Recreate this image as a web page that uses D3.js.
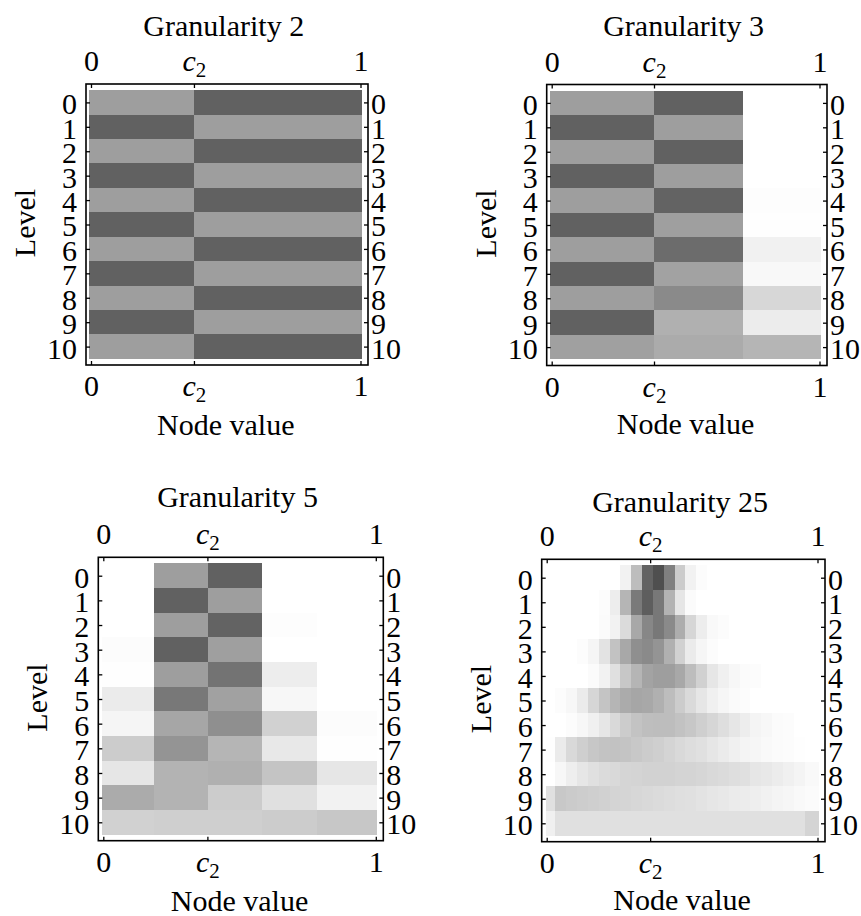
<!DOCTYPE html>
<html>
<head>
<meta charset="utf-8">
<script src="https://cdn.jsdelivr.net/npm/d3@7"></script>
<style>
  html, body { margin: 0; padding: 0; background: #ffffff; }
  svg { display: block; }
  text { font-family: "Liberation Serif", "Times New Roman", serif; fill: #000; }
</style>
</head>
<body>
<svg id="chart" width="861" height="916"></svg>
<script>
// ---------------- data ----------------
const c2 = 0.382;
const xTickValues = [0, c2, 1];
const xTickLabels = ["0", "c2", "1"];
const levels = [0, 1, 2, 3, 4, 5, 6, 7, 8, 9, 10];
const titles = ["Granularity 2", "Granularity 3", "Granularity 5", "Granularity 25"];
const xAxisTitle = "Node value";
const yAxisTitle = "Level";

// column edges (node value) per granularity
const edges2 = [-0.007, 0.382, 1.007];
const edges3 = [-0.008, 0.382, 0.714, 1.006];
const edges5 = [-0.006, 0.185, 0.383, 0.582, 0.786, 1.004];
const edges25 = [-0.004, 0.032, 0.072, 0.112, 0.152, 0.192, 0.232, 0.272, 0.312, 0.352,
                 0.392, 0.432, 0.472, 0.512, 0.552, 0.592, 0.632, 0.672, 0.712, 0.752,
                 0.792, 0.832, 0.872, 0.912, 0.952, 1.006];

// darkness per cell (rows = level 0..10)
const values2 = [
  [0.382, 0.618], [0.618, 0.382], [0.382, 0.618], [0.618, 0.382], [0.382, 0.618],
  [0.618, 0.382], [0.382, 0.618], [0.618, 0.382], [0.382, 0.618], [0.618, 0.382],
  [0.382, 0.618]
];
const values3 = [
  [0.382, 0.618, 0.0],
  [0.618, 0.382, 0.0],
  [0.382, 0.618, 0.0],
  [0.618, 0.382, 0.0],
  [0.382, 0.61, 0.008],
  [0.618, 0.378, 0.004],
  [0.382, 0.575, 0.055],
  [0.618, 0.365, 0.028],
  [0.382, 0.46, 0.155],
  [0.618, 0.31, 0.075],
  [0.372, 0.33, 0.29]
];
const values5 = [
  [0.0, 0.382, 0.618, 0.0, 0.0],
  [0.0, 0.618, 0.382, 0.0, 0.0],
  [0.0, 0.382, 0.61, 0.008, 0.0],
  [0.01, 0.618, 0.375, 0.0, 0.0],
  [0.005, 0.382, 0.55, 0.07, 0.0],
  [0.08, 0.53, 0.37, 0.03, 0.0],
  [0.04, 0.35, 0.44, 0.18, 0.01],
  [0.2, 0.42, 0.29, 0.09, 0.005],
  [0.1, 0.3, 0.31, 0.23, 0.1],
  [0.33, 0.3, 0.2, 0.12, 0.05],
  [0.18, 0.19, 0.19, 0.2, 0.22]
];
const values25 = [
  [0,0,0,0,0,0,0,0.05,0.26,0.61,0.69,0.5,0.2,0.05,0.01,0,0,0,0,0,0,0,0,0,0],
  [0,0,0,0,0,0.01,0.07,0.29,0.52,0.63,0.53,0.3,0.1,0.015,0,0,0,0,0,0,0,0,0,0,0],
  [0,0,0,0,0,0.015,0.05,0.14,0.34,0.47,0.53,0.46,0.32,0.16,0.07,0.025,0.01,0,0,0,0,0,0,0,0],
  [0,0,0,0.01,0.04,0.11,0.24,0.34,0.44,0.46,0.42,0.31,0.18,0.08,0.035,0.01,0,0,0,0,0,0,0,0,0],
  [0,0,0,0,0.015,0.05,0.12,0.22,0.29,0.36,0.38,0.38,0.34,0.26,0.18,0.1,0.06,0.03,0.015,0.01,0,0,0,0,0],
  [0,0.01,0.03,0.08,0.16,0.23,0.29,0.33,0.35,0.34,0.31,0.26,0.2,0.145,0.1,0.06,0.035,0.02,0.01,0,0,0,0,0,0],
  [0,0,0.01,0.03,0.06,0.1,0.15,0.2,0.235,0.255,0.26,0.26,0.24,0.22,0.19,0.16,0.13,0.1,0.07,0.045,0.03,0.015,0.01,0,0],
  [0.005,0.08,0.15,0.19,0.22,0.235,0.24,0.23,0.215,0.2,0.19,0.17,0.15,0.135,0.12,0.1,0.08,0.06,0.045,0.035,0.025,0.015,0.01,0.005,0],
  [0,0.03,0.065,0.1,0.12,0.14,0.15,0.165,0.17,0.175,0.175,0.175,0.17,0.17,0.16,0.15,0.14,0.13,0.12,0.1,0.09,0.075,0.06,0.045,0.025],
  [0.12,0.215,0.205,0.195,0.19,0.18,0.17,0.165,0.155,0.15,0.14,0.135,0.125,0.12,0.11,0.1,0.09,0.08,0.075,0.065,0.055,0.045,0.035,0.025,0.015],
  [0.06,0.12,0.12,0.12,0.12,0.12,0.12,0.12,0.12,0.12,0.12,0.12,0.12,0.12,0.12,0.12,0.12,0.12,0.12,0.12,0.12,0.12,0.12,0.12,0.17]
];

// ---------------- layout ----------------
const panels = [
  { title: titles[0], edges: edges2,  values: values2,  box: {l: 86,    t: 84,    r: 368,   b: 365   }, titleY: 36,    xlabY: 435 },
  { title: titles[1], edges: edges3,  values: values3,  box: {l: 546.7, t: 84.5,  r: 827,   b: 365.5 }, titleY: 36,    xlabY: 434 },
  { title: titles[2], edges: edges5,  values: values5,  box: {l: 98.3,  t: 557.3, r: 383.3, b: 840.7 }, titleY: 506.5, xlabY: 911 },
  { title: titles[3], edges: edges25, values: values25, box: {l: 541.7, t: 559.3, r: 825,   b: 841.7 }, titleY: 511.5, xlabY: 910 }
];

const FS = 30;
const color = d3.scaleLinear().domain([0, 1]).range(["#ffffff", "#000000"]);
const svg = d3.select("#chart");

function fixC2(sel) {
  sel.selectAll(".tick text").each(function(d) {
    if (Math.abs(d - c2) < 1e-9) {
      const t = d3.select(this);
      t.text(null);
      t.append("tspan").attr("font-style", "italic").text("c");
      t.append("tspan").attr("font-size", 21).attr("dy", 6).text("2");
    }
  });
}

panels.forEach(p => {
  const B = p.box;
  const x = d3.scaleLinear().domain([0, 1]).range([B.l + 5, B.r - 7.5]);
  const y = d3.scaleLinear().domain([0, 10]).range([B.t + 18.4, B.b - 18.4]);
  const g = svg.append("g");

  // cells
  const cells = [];
  p.values.forEach((row, r) => row.forEach((v, c) => cells.push({r, c, v})));
  g.append("g").attr("shape-rendering", "crispEdges")
    .selectAll("rect").data(cells).join("rect")
    .attr("x", d => x(p.edges[d.c]))
    .attr("width", d => x(p.edges[d.c + 1]) - x(p.edges[d.c]))
    .attr("y", d => y(levels[d.r] - 0.5))
    .attr("height", d => y(levels[d.r] + 0.5) - y(levels[d.r] - 0.5))
    .attr("fill", d => color(d.v));

  // frame
  g.append("rect")
    .attr("x", B.l).attr("y", B.t)
    .attr("width", B.r - B.l).attr("height", B.b - B.t)
    .attr("fill", "none").attr("stroke", "#000").attr("stroke-width", 1.6);

  const fmt = d => xTickLabels[xTickValues.indexOf(d)];
  const styleAxis = a => {
    a.select(".domain").remove();
    a.selectAll(".tick line").attr("stroke", "#000").attr("stroke-width", 1.3);
    a.selectAll(".tick text").attr("font-size", FS)
      .attr("font-family", "Liberation Serif, Times New Roman, serif").attr("fill", "#000");
  };

  const top = g.append("g").attr("transform", `translate(0,${B.t})`)
    .call(d3.axisTop(x).tickValues(xTickValues).tickFormat(fmt).tickSizeInner(-4).tickSizeOuter(0).tickPadding(13));
  styleAxis(top); fixC2(top);

  const bottom = g.append("g").attr("transform", `translate(0,${B.b})`)
    .call(d3.axisBottom(x).tickValues(xTickValues).tickFormat(fmt).tickSizeInner(-4).tickSizeOuter(0).tickPadding(10));
  styleAxis(bottom); fixC2(bottom);

  const left = g.append("g").attr("transform", `translate(${B.l},0)`)
    .call(d3.axisLeft(y).tickValues(levels).tickFormat(d3.format("d")).tickSizeInner(-4).tickSizeOuter(0).tickPadding(9));
  styleAxis(left);
  left.selectAll(".tick text").attr("dy", "0.38em");

  const right = g.append("g").attr("transform", `translate(${B.r},0)`)
    .call(d3.axisRight(y).tickValues(levels).tickFormat(d3.format("d")).tickSizeInner(-4).tickSizeOuter(0).tickPadding(3));
  styleAxis(right);
  right.selectAll(".tick text").attr("dy", "0.38em");

  const cx = (x(0) + x(1)) / 2;
  g.append("text").attr("x", cx - 2).attr("y", p.titleY)
    .attr("text-anchor", "middle").attr("font-size", FS).text(p.title);
  g.append("text").attr("x", cx).attr("y", p.xlabY)
    .attr("text-anchor", "middle").attr("font-size", FS).text(xAxisTitle);
  g.append("text")
    .attr("transform", `translate(${B.l - 51},${(B.t + B.b) / 2 - 1.5}) rotate(-90)`)
    .attr("text-anchor", "middle").attr("font-size", FS).text(yAxisTitle);
});
</script>
</body>
</html>
